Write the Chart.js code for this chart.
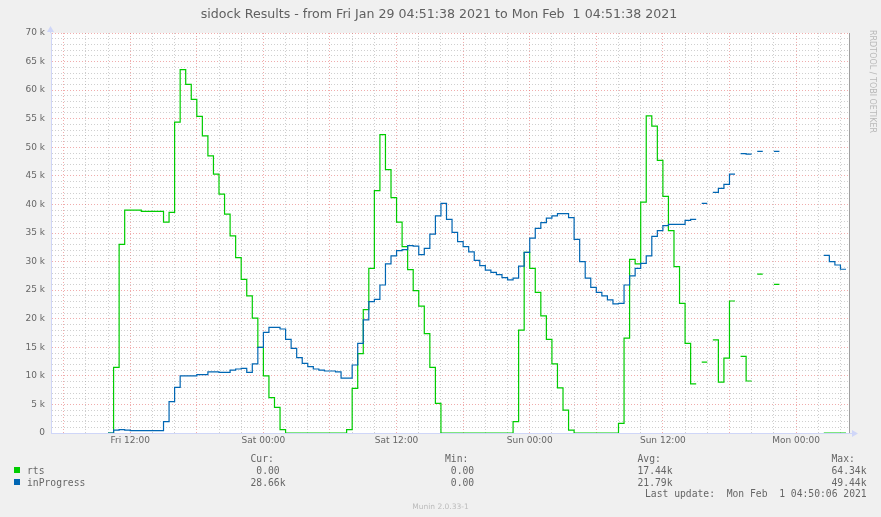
<!DOCTYPE html>
<html>
<head>
<meta charset="utf-8">
<script src="https://cdn.jsdelivr.net/npm/chart.js@4"></script>
<style>
  html, body { margin: 0; padding: 0; background: #f0f0f0; }
  #wrap { position: relative; width: 881px; height: 517px; overflow: hidden; color: #666; }
  #chart { position: absolute; left: 0; top: 0; }
  .t { position: absolute; white-space: pre; font-family: "DejaVu Sans Mono", monospace; font-size: 9.7px; line-height: 12px; }
  #title { position: absolute; left: 0; width: 878px; top: 6px; text-align: center; white-space: pre;
           font-family: "DejaVu Sans", sans-serif; font-size: 12.6px; line-height: 15px; color: #606060; }
  #rrd { position: absolute; left: 868px; top: 30px; writing-mode: vertical-rl; font-family: "DejaVu Sans", sans-serif;
         font-size: 8px; line-height: 9px; color: #b8b8b8; white-space: pre; }
  #munin { position: absolute; left: 0; width: 881px; top: 502px; text-align: center; font-family: "DejaVu Sans", sans-serif;
           font-size: 7.5px; line-height: 10px; color: #bbb; }
  .sw { position: absolute; width: 6px; height: 6px; left: 14px; }
</style>
</head>
<body>
<div id="wrap">
  <canvas id="chart" width="881" height="517"></canvas>
  <div id="title">sidock Results - from Fri Jan 29 04:51:38 2021 to Mon Feb  1 04:51:38 2021</div>
  <div id="rrd">RRDTOOL / TOBI OETIKER</div>

  <div class="t" style="left:250.5px;top:453px">Cur:</div>
  <div class="t" style="left:445px;top:453px">Min:</div>
  <div class="t" style="left:637.5px;top:453px">Avg:</div>
  <div class="t" style="left:831.5px;top:453px">Max:</div>

  <div class="sw" style="top:467px;background:#00cc00"></div>
  <div class="t" style="left:27px;top:464.5px">rts</div>
  <div class="t" style="left:250.5px;top:464.5px"> 0.00 </div>
  <div class="t" style="left:445px;top:464.5px"> 0.00 </div>
  <div class="t" style="left:637.5px;top:464.5px">17.44k</div>
  <div class="t" style="left:831.5px;top:464.5px">64.34k</div>

  <div class="sw" style="top:479px;background:#0066b3"></div>
  <div class="t" style="left:27px;top:476.7px">inProgress</div>
  <div class="t" style="left:250.5px;top:476.7px">28.66k</div>
  <div class="t" style="left:445px;top:476.7px"> 0.00 </div>
  <div class="t" style="left:637.5px;top:476.7px">21.79k</div>
  <div class="t" style="left:831.5px;top:476.7px">49.44k</div>

  <div class="t" style="left:645px;top:488px">Last update:  Mon Feb  1 04:50:06 2021</div>
  <div id="munin">Munin 2.0.33-1</div>
</div>

<script>
// time axis is hours since Fri Jan 29 04:51:38
const rangeHours = 72;
const slotHours = 0.5;
const slotStart = 0.139;   // first half-hour boundary (05:00)

// vertical grid every 2 hours, starting Fri 06:00
const gridHours = [];
for (let h = 1.139; h < rangeHours; h += 2) gridHours.push(h);
const xLabelHours = [7.139, 19.139, 31.139, 43.139, 55.139, 67.139];
const xLabels = ['Fri 12:00', 'Sat 00:00', 'Sat 12:00', 'Sun 00:00', 'Sun 12:00', 'Mon 00:00'];

const yMax = 70000;
const yStep = 1000;

// half-hour averages, in thousands (null = no data)
const rts = [
  null, null, null, null, null, null, null, null, null, null,      // 0-9
  0, 11.5, 33, 39.0, 39.0, 39.0, 38.8, 38.8, 38.8, 38.8,           // 10-19
  36.9, 38.6, 54.4, 63.6, 61.0, 58.4, 55.4, 52.0, 48.5, 45.3,      // 20-29
  41.8, 38.3, 34.5, 30.7, 26.9, 24.0, 20.1, 15.0, 10.0, 6.2,       // 30-39
  4.5, 0.6, 0, 0, 0, 0, 0, 0, 0, 0,                                // 40-49
  0, 0, 0, 0.6, 7.8, 13.9, 21.6, 28.8, 42.4, 52.2,                 // 50-59
  46.1, 41.2, 36.9, 32.6, 28.6, 24.9, 22.2, 17.4, 11.5, 5.2,       // 60-69
  0, 0, 0, 0, 0, 0, 0, 0, 0, 0,                                    // 70-79
  0, 0, 0, 2.0, 18.0, 31.6, 28.8, 24.6, 20.5, 16.4,                // 80-89
  12.1, 7.9, 4.0, 0.5, 0, 0, 0, 0, 0, 0,                           // 90-99
  0, 0, 1.7, 16.6, 30.4, 29.6, 40.4, 55.5, 53.7, 47.7,             // 100-109
  41.4, 35.4, 29.1, 22.7, 15.7, 8.6, null, 12.4, null, 16.3,       // 110-119
  8.9, 13.1, 23.1, null, 13.4, 9.1, null, 27.8, null, null,        // 120-129
  26.0, null, null, null, null, null, null, null, null, 0,         // 130-139
  0, 0, 0, null                                                    // 140-143
];

const inProgress = [
  null, null, null, null, null, null, null, null, null, null,      // 0-9
  0, 0.5, 0.6, 0.5, 0.4, 0.4, 0.4, 0.4, 0.4, 0.4,                  // 10-19
  2.0, 5.5, 8.0, 10.0, 10.0, 10.0, 10.2, 10.2, 10.7, 10.7,         // 20-29
  10.6, 10.6, 11.0, 11.2, 11.3, 10.6, 12.1, 15.0, 17.6, 18.5,      // 30-39
  18.5, 18.2, 16.4, 14.8, 13.2, 12.2, 11.6, 11.2, 11.0, 10.85,     // 40-49
  10.85, 10.7, 9.6, 9.6, 11.9, 15.7, 19.8, 23.0, 23.4, 25.9,       // 50-59
  29.6, 31.0, 31.9, 32.1, 32.8, 32.7, 31.2, 32.3, 34.8, 38.0,      // 60-69
  40.2, 37.4, 35.1, 33.5, 32.6, 31.7, 30.2, 29.3, 28.5, 28.1,      // 70-79
  27.7, 27.2, 26.8, 27.1, 29.2, 31.6, 34.1, 35.8, 36.8, 37.6,      // 80-89
  38.0, 38.4, 38.4, 37.7, 33.9, 30.0, 27.1, 25.5, 24.6, 24.0,      // 90-99
  23.3, 22.6, 22.7, 25.9, 27.5, 28.8, 29.7, 31.0, 34.4, 35.4,      // 100-109
  36.3, 36.5, 36.5, 36.5, 37.2, 37.4, null, 40.2, null, 42.1,      // 110-119
  42.8, 43.5, 45.3, null, 48.9, 48.8, null, 49.3, null, null,      // 120-129
  49.3, null, null, null, null, null, null, null, null, 31.1,      // 130-139
  30.0, 29.4, 28.66, null                                          // 140-143
];

// each half-hour value becomes a flat step
function stepPoints(vals) {
  const pts = [];
  vals.forEach((v, i) => {
    const t0 = slotStart + i * slotHours;
    if (v === null) {
      pts.push({x: t0 + slotHours / 2, y: null});
      return;
    }
    pts.push({x: t0, y: v * 1000});
    pts.push({x: Math.min(t0 + slotHours, rangeHours), y: v * 1000});
  });
  return pts;
}

const axisColor = '#cfd6f8';
const minorGrid = 'rgba(140,140,140,0.42)';
const majorGrid = 'rgba(225,90,90,0.5)';

const frame = {
  id: 'frame',
  beforeDraw(c) {
    const {ctx, chartArea: a} = c;
    ctx.save();
    ctx.fillStyle = '#ffffff';
    ctx.fillRect(a.left, a.top, a.right - a.left, a.bottom - a.top);
    ctx.restore();
  },
  afterDraw(c) {
    const {ctx, chartArea: a} = c;
    ctx.save();
    // right edge marker
    ctx.strokeStyle = '#a0a0a0';
    ctx.lineWidth = 1;
    ctx.beginPath();
    ctx.moveTo(Math.round(a.right) - 0.5, a.top);
    ctx.lineTo(Math.round(a.right) - 0.5, a.bottom);
    ctx.stroke();
    // axis extensions and arrows
    ctx.strokeStyle = axisColor;
    ctx.fillStyle = axisColor;
    ctx.beginPath();
    ctx.moveTo(a.right, a.bottom + 0.5);
    ctx.lineTo(a.right + 3, a.bottom + 0.5);
    ctx.moveTo(a.left - 0.5, a.top);
    ctx.lineTo(a.left - 0.5, a.top - 3);
    ctx.stroke();
    ctx.beginPath();
    ctx.moveTo(a.right + 2, a.bottom - 3);
    ctx.lineTo(a.right + 8, a.bottom + 0.5);
    ctx.lineTo(a.right + 2, a.bottom + 4);
    ctx.closePath();
    ctx.fill();
    ctx.beginPath();
    ctx.moveTo(a.left - 4, a.top - 1);
    ctx.lineTo(a.left - 0.5, a.top - 7);
    ctx.lineTo(a.left + 3, a.top - 1);
    ctx.closePath();
    ctx.fill();
    ctx.restore();
  }
};

const tickFont = {family: 'DejaVu Sans', size: 9};

new Chart(document.getElementById('chart').getContext('2d'), {
  type: 'line',
  data: {
    datasets: [
      {
        label: 'rts',
        data: stepPoints(rts),
        borderColor: '#00cc00',
        borderWidth: 1.2,
        pointRadius: 0,
        order: 2
      },
      {
        label: 'inProgress',
        data: stepPoints(inProgress),
        borderColor: '#0066b3',
        borderWidth: 1.2,
        pointRadius: 0,
        order: 1
      }
    ]
  },
  options: {
    responsive: false,
    animation: false,
    devicePixelRatio: 1,
    spanGaps: false,
    layout: {padding: {top: 33, right: 31, left: 0, bottom: 0}},
    plugins: {legend: {display: false}, tooltip: {enabled: false}, title: {display: false}},
    elements: {line: {tension: 0, borderCapStyle: 'butt', borderJoinStyle: 'miter'}},
    scales: {
      x: {
        type: 'linear',
        min: 0,
        max: rangeHours,
        afterBuildTicks: s => { s.ticks = gridHours.map(v => ({value: v})); },
        afterFit: s => { s.height = 84; },
        grid: {
          drawTicks: false,
          color: ctx => (ctx.index % 3 === 0 ? majorGrid : minorGrid)
        },
        border: {display: true, color: axisColor, width: 1, dash: [1, 2]},
        ticks: {
          autoSkip: false,
          maxRotation: 0,
          padding: 2,
          color: '#666',
          font: tickFont,
          callback: v => {
            const j = xLabelHours.findIndex(h => Math.abs(h - v) < 0.01);
            return j >= 0 ? xLabels[j] : '';
          }
        }
      },
      y: {
        min: 0,
        max: yMax,
        afterBuildTicks: s => {
          const t = [];
          for (let v = 0; v <= yMax; v += yStep) t.push({value: v});
          s.ticks = t;
        },
        afterFit: s => { s.width = 51; },
        grid: {
          drawTicks: false,
          color: ctx => (ctx.tick && ctx.tick.value % 5000 === 0 ? majorGrid : minorGrid)
        },
        border: {display: true, color: axisColor, width: 1, dash: [1, 2]},
        ticks: {
          autoSkip: false,
          padding: 6,
          color: '#666',
          font: tickFont,
          callback: v => (v === 0 ? '0' : (v % 5000 === 0 ? (v / 1000) + ' k' : ''))
        }
      }
    }
  },
  plugins: [frame]
});
</script>
</body>
</html>
